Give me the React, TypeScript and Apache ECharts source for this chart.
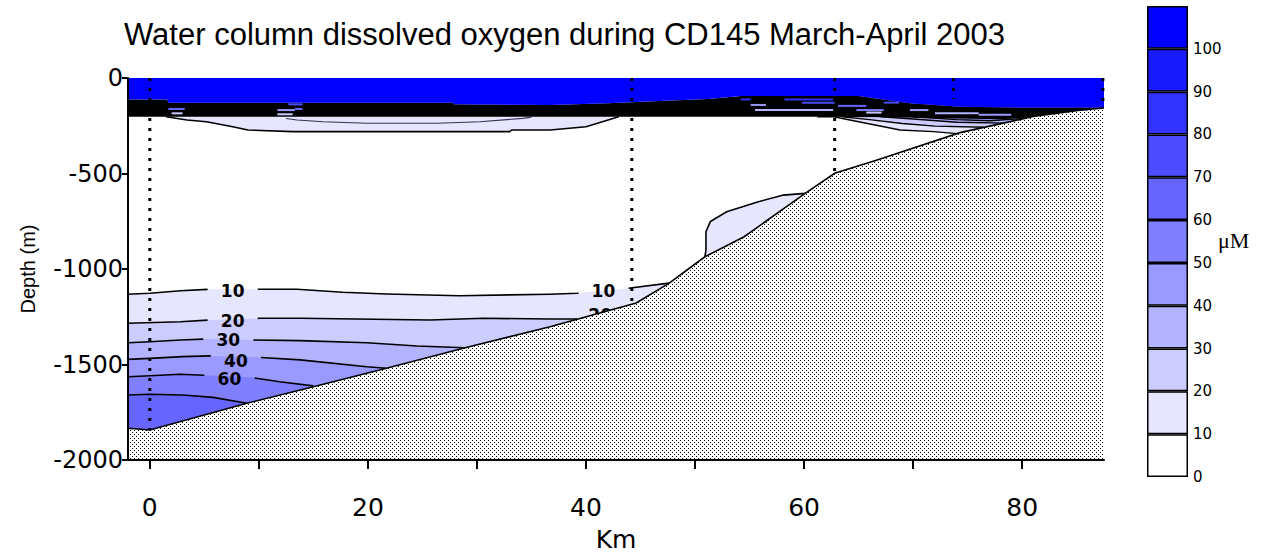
import { useEffect, useRef } from "react";
import * as echarts from "echarts";

// ---------- axes ----------
const xRange = [-2, 87.5];
const yRange = [-2000, 0];
const xTickValues = [0, 10, 20, 30, 40, 50, 60, 70, 80];
const xLabelValues = [0, 20, 40, 60, 80];
const yInterval = 500;

// ---------- colour scale (µM) ----------
const levels = [0, 10, 20, 30, 40, 50, 60, 70, 80, 90, 100, 110];
const levelColors = ["#FFFFFF", "#E6E6FF", "#CCCCFF", "#B3B3FF", "#9999FF", "#8080FF", "#6666FF", "#4D4DFF", "#3333FF", "#1A1AFF", "#0000FF"];

// ---------- section geometry [km, depth m] ----------
const seabed = [[-2, -1834], [0, -1843], [8.9, -1703], [15.0, -1616], [21.7, -1520], [29.1, -1410], [36.7, -1302], [44.6, -1178], [47.6, -1075], [50.9, -936], [54.5, -831], [60.1, -604], [62.8, -499], [66.7, -429], [74.3, -286], [81.0, -202], [85.3, -168], [87.5, -157]];

// 100 µM isoline (bottom of the saturated surface layer)
const surfaceIso100 = [[-2, -112], [1.6, -112], [1.7, -129], [27.8, -129], [27.9, -138], [36.7, -141], [42, -132], [47.2, -119], [51.2, -110], [54.2, -94], [65.0, -94], [69.7, -132], [74.3, -150], [81, -155], [87.5, -155]];
// bottom of the oxycline (10 µM)
const oxyclineBottom = [[-2, -203], [61.2, -203], [68, -205], [74, -212], [78, -216], [81, -206], [84, -185], [87.5, -160]];

// deep isolines 10..60 µM
const deepLevels = [10, 20, 30, 40, 50, 60];
const iso10 = [[-2, -1132], [0, -1127], [2.8, -1114], [5.5, -1106], [10.1, -1106], [13.5, -1106], [17.7, -1122], [21.7, -1131], [28.4, -1140], [36.7, -1132], [39.2, -1127], [43.3, -1105], [47.6, -1074]];
const iso20 = [[-2, -1284], [2.8, -1276], [5.5, -1267], [10.1, -1258], [13.8, -1258], [25.7, -1267], [30.6, -1258], [36.7, -1262], [39.2, -1262]];
const iso30 = [[-2, -1386], [0, -1381], [2.8, -1372], [5.5, -1366], [9.5, -1372], [13.8, -1375], [19.9, -1386], [24.5, -1403], [28.9, -1412]];
const iso40 = [[-2, -1473], [0, -1468], [3.0, -1459], [5.5, -1455], [9.8, -1462], [13.8, -1476], [19.9, -1512], [21.7, -1520]];
const iso50 = [[-2, -1564], [0, -1559], [2.8, -1551], [9.2, -1567], [11.9, -1590], [15.0, -1612]];
const iso60 = [[-2, -1660], [0, -1656], [3.0, -1660], [5.8, -1672], [8.9, -1703]];
const deepIsolines = [iso10, iso20, iso30, iso40, iso50, iso60];

// shallow lenses below the oxycline
const leftLens10 = [[1.5, -203], [3.4, -220], [5.2, -229], [7.6, -255], [9.0, -272], [13.1, -281], [33.0, -281], [33.2, -272], [36.7, -272], [40.0, -255], [43.0, -203]];
const leftLensInner = [[12.5, -212], [13.5, -220], [15.9, -229], [19.9, -237], [26.3, -237], [30.3, -229], [34.2, -211], [35, -205]];
const rightLevels = [10, 20, 30, 40];
const rightLens10 = [[61.2, -203], [62.7, -203], [65.7, -237], [68.8, -272], [71.9, -281], [74.0, -291]];
const rightLens20 = [[63.5, -203], [66, -218], [69, -238], [72, -252], [76.5, -258]];
const rightLens30 = [[67, -203], [70, -215], [74, -232], [78.3, -236]];
const rightLens40 = [[70, -203], [74, -218], [77, -224], [80.2, -212]];
const rightLenses = [rightLens10, rightLens20, rightLens30, rightLens40];
// 10 µM bulge on the slope
const slopeLens10 = [[50.9, -936], [51.0, -901], [51.0, -805], [51.4, -752], [52.9, -700], [55.8, -648], [58.1, -613], [60.1, -604]];

// short isoline fragments inside the oxycline [km start, km end, depth, level index]
const fragments = [
  [1.7, 3.2, -162, 6], [2.0, 3.0, -185, 2], [11.7, 13.3, -168, 4], [11.7, 13.1, -190, 2],
  [12.7, 14.0, -138, 7], [13.3, 14.0, -162, 6], [54.2, 55.1, -112, 8], [58.2, 62.8, -112, 8],
  [59.8, 62.8, -129, 7], [55.1, 56.5, -141, 4], [55.5, 62.8, -168, 3], [63.1, 65.7, -146, 6],
  [64.8, 67.3, -168, 5], [67.3, 68.7, -129, 7], [65.7, 67.1, -181, 2], [69.7, 71.4, -168, 4],
  [72.0, 76.0, -185, 3], [76.0, 79.0, -192, 4],
];

// CTD stations [km, cast depth]
const stations = [[0, -1843], [44.2, -1184], [62.8, -499], [73.7, -110], [87.4, -132]];

// contour labels [km, depth, text, deep isoline index]
const contourLabels: [number, number, string, number][] = [
  [7.6, -1117, "10", 0],
  [7.6, -1271, "20", 1],
  [7.2, -1372, "30", 2],
  [7.9, -1480, "40", 3],
  [7.3, -1574, "60", 4],
  [41.6, -1117, "10", 0],
  [41.3, -1240, "20", -1],
];
const labelHalfGapKm = 2.3;

const TITLE = "Water column dissolved oxygen during CD145 March-April 2003";

function splitLine(pts: number[][], gaps: number[][]) {
  const out: number[][][] = [];
  let cur: number[][] = [];
  const inGap = (x: number) => gaps.some(([a, b]) => x > a && x < b);
  for (let i = 0; i < pts.length; i++) {
    const p = pts[i];
    if (i > 0) {
      const q = pts[i - 1];
      const bounds: number[] = [];
      gaps.forEach(([a, b]) => {
        [a, b].forEach((v) => {
          if ((v - q[0]) * (v - p[0]) < 0) bounds.push(v);
        });
      });
      const dir = p[0] >= q[0] ? 1 : -1;
      bounds.sort((u, v) => (u - v) * dir);
      for (const v of bounds) {
        const t = (v - q[0]) / (p[0] - q[0]);
        const pt = [v, q[1] + t * (p[1] - q[1])];
        if (cur.length) {
          cur.push(pt);
          out.push(cur);
          cur = [];
        } else {
          cur = [pt];
        }
      }
    }
    if (!inGap(p[0])) cur.push(p);
  }
  if (cur.length > 1) out.push(cur);
  return out;
}

export default function App() {
  const ref = useRef<HTMLDivElement>(null);
  useEffect(() => {
    const el = ref.current;
    if (!el) return;
    const chart = echarts.init(el, null, { renderer: "svg" });

    const cvs = document.createElement("canvas");
    cvs.width = 4;
    cvs.height = 4;
    const ctx = cvs.getContext("2d")!;
    ctx.fillStyle = "#ffffff";
    ctx.fillRect(0, 0, 4, 4);
    ctx.fillStyle = "#000000";
    ctx.fillRect(0, 0, 1, 1);
    ctx.fillRect(2, 2, 1, 1);
    const stipple: any = { image: cvs, repeat: "repeat", imageWidth: 4, imageHeight: 4 };

    const [x0, x1] = xRange;
    const [yBot, yTop] = yRange;
    const closeDown = (p: number[][]) => [...p, [p[p.length - 1][0], yBot], [p[0][0], yBot]];
    const closeUp = (p: number[][]) => [...p, [p[p.length - 1][0], yTop], [p[0][0], yTop]];
    const closeUpRight = (p: number[][]) => [...p, [x1, p[p.length - 1][1]], [x1, yTop], [p[0][0], yTop]];

    const renderItem = (_params: any, api: any) => {
      const P = (pts: number[][]) => pts.map((p) => api.coord(p));
      const kids: any[] = [];
      const poly = (pts: number[][], fill: any) =>
        kids.push({ type: "polygon", shape: { points: P(pts) }, style: { fill, stroke: "none" } });
      const line = (pts: number[][], stroke: string, lineWidth: number, lineDash?: number[]) =>
        kids.push({ type: "polyline", shape: { points: P(pts) }, style: { fill: "none", stroke, lineWidth, lineDash } });

      deepIsolines.forEach((iso, i) => poly(closeDown(iso), levelColors[deepLevels[i] / 10]));
      poly(closeUp(leftLens10), levelColors[1]);
      rightLenses.forEach((iso, i) => poly(closeUpRight(iso), levelColors[rightLevels[i] / 10]));
      poly(closeDown(slopeLens10), levelColors[1]);

      poly([...surfaceIso100, ...[...oxyclineBottom].reverse()], "#000000");
      poly([[x0, yTop], [x1, yTop], ...[...surfaceIso100].reverse()], levelColors[10]);

      fragments.forEach(([a, b, d, li]) => line([[a, d], [b, d]], levelColors[li], 2));

      deepIsolines.forEach((iso, i) => {
        const gaps = contourLabels.filter((l) => l[3] === i).map((l) => [l[0] - labelHalfGapKm, l[0] + labelHalfGapKm]);
        splitLine(iso, gaps).forEach((seg) => line(seg, "#000", 1.6));
      });
      line(leftLens10, "#000", 1.6);
      line(leftLensInner, "#333355", 1.2);
      rightLenses.forEach((iso) => line(iso, "#000", 1.4));
      line(slopeLens10, "#000", 1.6);

      contourLabels.forEach(([km, d, t]) => {
        const [px, py] = api.coord([km, d]);
        kids.push({
          type: "text",
          style: { text: t, x: px, y: py, fill: "#000", font: 'bold 17px "DejaVu Sans"', align: "center", verticalAlign: "middle" },
        });
      });

      stations.forEach(([km, d]) => line([[km, yTop], [km, d]], "#000", 3, [3, 7]));

      poly([...seabed, [x1, yBot], [x0, yBot]], stipple);
      line(seabed, "#000", 1.6);

      return { type: "group", children: kids };
    };

    const axisFont = "DejaVu Sans";
    chart.setOption({
      animation: false,
      backgroundColor: "#ffffff",
      title: {
        text: TITLE,
        left: 119,
        top: 14,
        textStyle: { fontSize: 31, fontWeight: "normal", fontFamily: "Liberation Sans", color: "#000" },
      },
      grid: [
        { left: 128, top: 78, width: 976, height: 382, containLabel: false, outerBoundsMode: "none" },
        { left: 1147, top: 6, width: 41, height: 471, containLabel: false, outerBoundsMode: "none" },
      ],
      xAxis: [
        {
          type: "value",
          gridIndex: 0,
          min: x0,
          max: x1,
          z: 10,
          axisLine: { show: true, onZero: false, lineStyle: { color: "#000", width: 2 } },
          axisTick: { show: true, customValues: xTickValues, length: 9, lineStyle: { color: "#000", width: 2 } },
          axisLabel: { customValues: xLabelValues, fontSize: 25, fontFamily: axisFont, color: "#000", margin: 35, formatter: (v: number) => String(v) },
          splitLine: { show: false },
          name: "Km",
          nameLocation: "middle",
          nameGap: 67,
          nameTextStyle: { fontSize: 25, fontFamily: axisFont, color: "#000" },
        },
        { type: "category", gridIndex: 1, data: ["µM"], show: false },
      ],
      yAxis: [
        {
          type: "value",
          gridIndex: 0,
          min: yBot,
          max: yTop,
          interval: yInterval,
          z: 10,
          axisLine: { show: true, onZero: false, lineStyle: { color: "#000", width: 2 } },
          axisTick: { show: true, length: 6, lineStyle: { color: "#000", width: 2 } },
          axisLabel: { fontSize: 24, fontFamily: axisFont, color: "#000", margin: 5, formatter: (v: number) => String(v) },
          splitLine: { show: false },
          name: "Depth (m)",
          nameLocation: "middle",
          nameGap: 90,
          nameTextStyle: { fontSize: 20, fontFamily: "Liberation Sans", color: "#000" },
        },
        {
          type: "value",
          gridIndex: 1,
          position: "right",
          min: levels[0],
          max: levels[levels.length - 1],
          interval: 10,
          axisLine: { show: false },
          axisTick: { show: false },
          splitLine: { show: false },
          axisLabel: {
            formatter: (v: number) => (v <= 100 ? String(v) : ""),
            fontSize: 15,
            fontFamily: axisFont,
            color: "#000",
            margin: 5,
          },
        },
      ],
      graphic: [
        { type: "text", left: 1218, top: 229, style: { text: "μM", font: '22px "Liberation Serif"', fill: "#000" } },
      ],
      series: [
        {
          type: "custom",
          xAxisIndex: 0,
          yAxisIndex: 0,
          silent: true,
          data: [[0, 0]],
          renderItem,
        },
        ...levelColors.map((c, i) => ({
          type: "bar",
          xAxisIndex: 1,
          yAxisIndex: 1,
          stack: "cb",
          silent: true,
          barWidth: "100%",
          data: [levels[i + 1] - levels[i]],
          itemStyle: { color: c, borderColor: "#000", borderWidth: 1.5 },
        })),
      ],
    });
    return () => chart.dispose();
  }, []);
  return (
    <div
      ref={ref}
      style={{ position: "fixed", left: 0, top: 0, width: 1273, height: 553, background: "#fff" }}
    />
  );
}
